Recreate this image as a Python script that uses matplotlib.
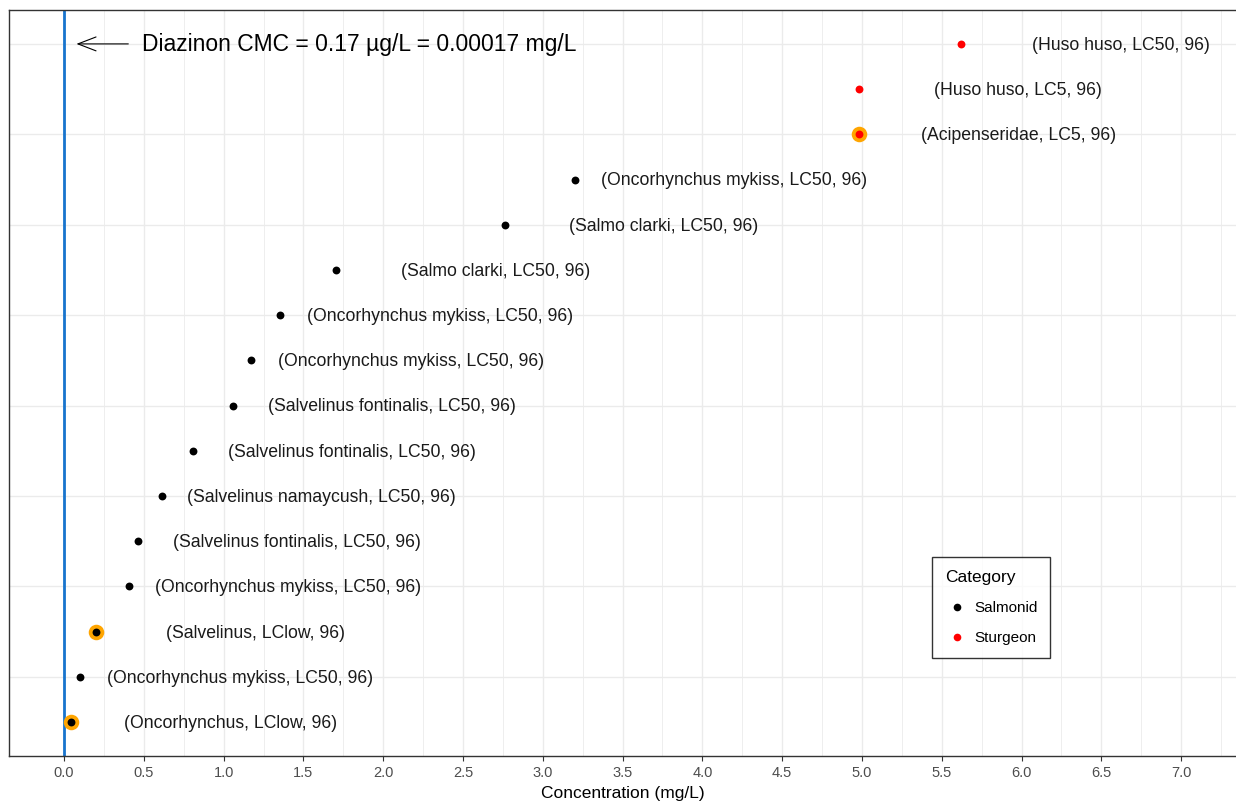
import numpy as np
import matplotlib.pyplot as plt
from matplotlib.lines import Line2D

plt.rcParams['font.family'] = ['Liberation Sans', 'DejaVu Sans']

# rows listed bottom to top
labels = ['(Oncorhynchus, LClow, 96)', '(Oncorhynchus mykiss, LC50, 96)', '(Salvelinus, LClow, 96)',
          '(Oncorhynchus mykiss, LC50, 96)', '(Salvelinus fontinalis, LC50, 96)',
          '(Salvelinus namaycush, LC50, 96)', '(Salvelinus fontinalis, LC50, 96)',
          '(Salvelinus fontinalis, LC50, 96)', '(Oncorhynchus mykiss, LC50, 96)',
          '(Oncorhynchus mykiss, LC50, 96)', '(Salmo clarki, LC50, 96)', '(Salmo clarki, LC50, 96)',
          '(Oncorhynchus mykiss, LC50, 96)', '(Acipenseridae, LC5, 96)', '(Huso huso, LC5, 96)',
          '(Huso huso, LC50, 96)']
conc = [0.044, 0.10, 0.20, 0.406, 0.462, 0.612, 0.806, 1.056, 1.174, 1.355, 1.705, 2.76, 3.20,
        4.98, 4.98, 5.62]
category = ['Salmonid'] * 13 + ['Sturgeon'] * 3
highlight = [True, False, True] + [False] * 10 + [True, False, False]
cmc = 0.00017

colors = {'Salmonid': 'black', 'Sturgeon': 'red'}
rows = np.arange(1, len(conc) + 1)
conc = np.array(conc)

fig = plt.figure(figsize=(12.36, 8.01), dpi=100)
ax = fig.add_axes([9 / 1236, 1 - 756 / 801, 1228 / 1236, 746 / 801])

ax.set_xlim(-0.345, 7.35)
ax.set_ylim(0.25, 16.75)

# grid
for xv in np.arange(0, 7.26, 0.25):
    ax.axvline(xv, color='#EBEBEB', lw=1.0 if xv % 0.5 == 0 else 0.6, zorder=0)
for yv in range(2, 17, 2):
    ax.axhline(yv, color='#EBEBEB', lw=1.0, zorder=0)

ax.axvline(cmc, color='#1874CD', lw=2, zorder=1)

hl = np.array(highlight)
ax.scatter(conc[hl], rows[hl], s=125, color='orange', zorder=2, linewidths=0)
for cat in colors:
    m = np.array([c == cat for c in category])
    ax.scatter(conc[m], rows[m], s=32, color=colors[cat], zorder=3, linewidths=0)

for xv, yv, lab in zip(conc, rows, labels):
    ax.text(xv + 1.0, yv - 0.03, lab, ha='center', va='center', fontsize=12.7, color='#1a1a1a')

ax.annotate('', xy=(0.06, 16), xytext=(0.42, 16),
            arrowprops=dict(arrowstyle='->,head_length=1.3,head_width=0.5', color='black', lw=0.8))
ax.text(0.49, 15.98, 'Diazinon CMC = 0.17 µg/L = 0.00017 mg/L', ha='left', va='center', fontsize=16.5)

ax.set_xticks(np.arange(0, 7.01, 0.5))
ax.set_xticklabels([f'{v:.1f}' for v in np.arange(0, 7.01, 0.5)], color='#4D4D4D', fontsize=10.5)
ax.set_yticks([])
ax.tick_params(axis='x', length=3.5, color='#333333', pad=4)
ax.set_xlabel('Concentration (mg/L)', fontsize=12.5, labelpad=4)
for s in ax.spines.values():
    s.set_color('#333333')
    s.set_linewidth(1.0)

handles = [Line2D([], [], marker='o', ls='', color=colors[c], markersize=5.5, markeredgewidth=0)
           for c in colors]
leg = ax.legend(handles, list(colors), title='Category', loc='upper left',
                bbox_to_anchor=(0.7516, 0.2668), fontsize=11, title_fontsize=12.5,
                frameon=True, fancybox=False, edgecolor='black', borderpad=0.85,
                handletextpad=0.3, handlelength=1.6, labelspacing=1.05, borderaxespad=0)
leg.get_frame().set_linewidth(1.0)
leg._legend_box.align = 'left'

fig.savefig('out.png', dpi=100)
